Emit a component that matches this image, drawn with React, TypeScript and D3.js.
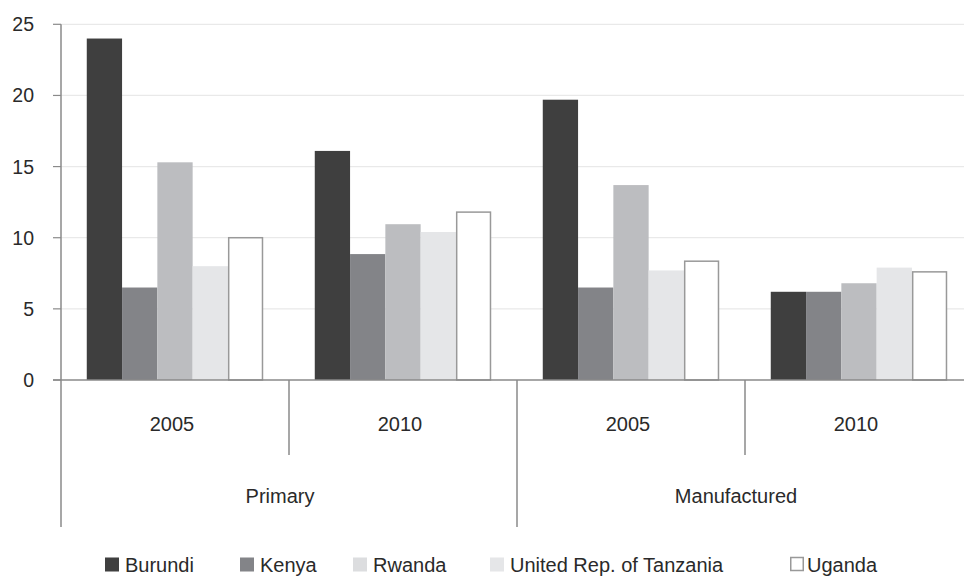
import React from "react";
import * as d3 from "d3";

const sections = ["Primary", "Manufactured"];
const years = ["2005", "2010"];
const seriesNames = ["Burundi", "Kenya", "Rwanda", "United Rep. of Tanzania", "Uganda"];
const burundi = [24.0, 16.1, 19.7, 6.2];
const kenya = [6.5, 8.85, 6.5, 6.2];
const rwanda = [15.3, 10.95, 13.7, 6.8];
const tanzania = [8.0, 10.4, 7.7, 7.9];
const uganda = [10.0, 11.8, 8.35, 7.6];
const yTicks = [0, 5, 10, 15, 20, 25];

const seriesValues = [burundi, kenya, rwanda, tanzania, uganda];
const barFill = ["#3f3f3f", "#838488", "#bcbdc0", "#e5e6e8", "#ffffff"];
const legendFill = ["#3f3f3f", "#838488", "#dcdddf", "#e5e6e8", "#ffffff"];
const legendX = [105, 240, 353, 490, 790];

const groups = sections.flatMap((s) => years.map((y) => `${s}|${y}`));

export default function App() {
  const W = 964, H = 577;
  const x0 = d3.scaleBand<string>().domain(groups).range([61, 61 + 228 * 4]).padding(0);
  const x1 = d3.scaleBand<string>().domain(seriesNames).range([0, x0.bandwidth()]).paddingInner(0).paddingOuter(0.73);
  const y = d3.scaleLinear().domain([0, 25]).range([380, 24.3]);
  const font = "'Liberation Sans', Arial, Helvetica, sans-serif";
  const axisColor = "#8a8a8a";
  const textColor = "#2a2a2a";
  const secW = x0.bandwidth() * 2;

  return (
    <svg width={W} height={H} style={{ position: "absolute", left: 0, top: 0, background: "#fff" }} fontFamily={font}>
      {/* gridlines */}
      {yTicks.filter((t) => t > 0).map((t) => (
        <line key={t} x1={61} x2={W} y1={y(t)} y2={y(t)} stroke="#e9e9e9" strokeWidth={1.2} />
      ))}
      {/* y ticks */}
      {yTicks.map((t) => (
        <g key={"t" + t}>
          <line x1={53} x2={61} y1={y(t)} y2={y(t)} stroke={axisColor} strokeWidth={1.2} />
          <text x={34} y={y(t) + 7} textAnchor="end" fontSize={19.5} fill={textColor}>{t}</text>
        </g>
      ))}
      {/* bars */}
      {groups.map((g, gi) => (
        <g key={g} transform={`translate(${x0(g)},0)`}>
          {seriesNames.map((s, si) => {
            const v = seriesValues[si][gi];
            const isU = si === 4;
            return (
              <rect
                key={s}
                x={(x1(s) as number) + (isU ? 0.75 : 0)}
                y={y(v)}
                width={x1.bandwidth() - (isU ? 1.5 : 0)}
                height={y(0) - y(v)}
                fill={barFill[si]}
                stroke={isU ? "#999" : "none"}
                strokeWidth={isU ? 1.5 : 0}
              />
            );
          })}
        </g>
      ))}
      {/* y axis line */}
      <line x1={61} x2={61} y1={24.3} y2={527} stroke={axisColor} strokeWidth={1.5} />
      {/* x axis line */}
      <line x1={53} x2={W} y1={380} y2={380} stroke={axisColor} strokeWidth={1.5} />
      {/* group dividers */}
      {groups.map((g, gi) => {
        if (gi === 0) return null;
        const xx = x0(g) as number;
        const long = gi % 2 === 0;
        return <line key={"d" + g} x1={xx} x2={xx} y1={380} y2={long ? 527 : 455} stroke={axisColor} strokeWidth={1.5} />;
      })}
      {/* year labels */}
      {groups.map((g) => (
        <text key={"l" + g} x={(x0(g) as number) + x0.bandwidth() / 2 - 3} y={431} textAnchor="middle" fontSize={20} fill={textColor}>
          {g.split("|")[1]}
        </text>
      ))}
      {/* section labels */}
      {sections.map((s, i) => (
        <text key={s} x={61 + secW * i + secW / 2 - 9} y={503} textAnchor="middle" fontSize={20} fill={textColor}>
          {s}
        </text>
      ))}
      {/* legend */}
      {seriesNames.map((s, i) => (
        <g key={"lg" + s}>
          <rect x={legendX[i] + (i === 4 ? 0.75 : 0)} y={557.5} width={i === 4 ? 12.5 : 14} height={i === 4 ? 13 : 14}
            fill={legendFill[i]} stroke={i === 4 ? "#999" : "none"} strokeWidth={1.5} />
          <text x={legendX[i] + (i === 4 ? 17 : 20)} y={572} fontSize={20} fill={textColor}>{s}</text>
        </g>
      ))}
    </svg>
  );
}
